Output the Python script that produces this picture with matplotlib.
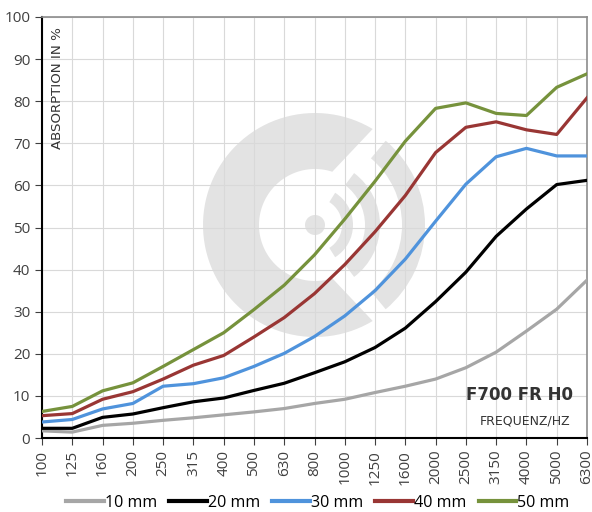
import numpy as np
import matplotlib.pyplot as plt
from matplotlib.patches import Wedge, Circle, Polygon

# Frequenzbänder (Hz)
frequencies = ["100", "125", "160", "200", "250", "315", "400", "500", "630", "800",
               "1000", "1250", "1600", "2000", "2500", "3150", "4000", "5000", "6300"]

# Absorption in % je Materialstärke
abs_10mm = [1.7, 1.4, 3.0, 3.5, 4.2, 4.8, 5.5, 6.2, 7.0, 8.2,
            9.2, 10.8, 12.3, 14.0, 16.7, 20.4, 25.4, 30.6, 37.5]
abs_20mm = [2.3, 2.3, 4.9, 5.7, 7.2, 8.6, 9.5, 11.3, 13.0, 15.5,
            18.1, 21.5, 26.1, 32.4, 39.4, 47.9, 54.4, 60.2, 61.2]
abs_30mm = [3.8, 4.4, 6.9, 8.2, 12.3, 12.9, 14.3, 17.0, 20.1, 24.1,
            29.0, 35.0, 42.5, 51.5, 60.3, 66.8, 68.8, 67.0, 67.0]
abs_40mm = [5.3, 5.8, 9.2, 11.0, 14.0, 17.3, 19.6, 24.0, 28.6, 34.3,
            41.2, 49.0, 57.6, 67.8, 73.8, 75.1, 73.2, 72.1, 80.8]
abs_50mm = [6.3, 7.5, 11.2, 13.1, 17.0, 21.0, 25.0, 30.5, 36.3, 43.5,
            52.0, 61.0, 70.5, 78.3, 79.6, 77.1, 76.6, 83.3, 86.5]

series = [
    ("10 mm", abs_10mm, "#a6a6a6"),
    ("20 mm", abs_20mm, "#000000"),
    ("30 mm", abs_30mm, "#4f93dc"),
    ("40 mm", abs_40mm, "#993634"),
    ("50 mm", abs_50mm, "#76923c"),
]

plt.rcParams["font.family"] = ["Open Sans", "DejaVu Sans"]

fig = plt.figure(figsize=(5.92, 5.12), dpi=100)
ax = fig.add_axes([42 / 592, 74 / 512, 545 / 592, 421 / 512])

# Wasserzeichen (Logo) im Hintergrund, in Zoll-Koordinaten
wm = "#e3e3e3"
cx, cy = 3.15, 2.87
r_out, r_in = 1.12, 0.56
a_out = np.radians(np.linspace(59, 301, 80))
a_in = np.radians(np.linspace(288, 72, 80))
ring = np.vstack([
    np.column_stack([cx + r_out * np.cos(a_out), cy + r_out * np.sin(a_out)]),
    np.column_stack([cx + r_in * np.cos(a_in), cy + r_in * np.sin(a_in)]),
])
logo = [
    Polygon(ring, closed=True),
    Circle((cx, cy), 0.10),
    Wedge((cx, cy), 0.38, -58, 58, width=0.11),
    Wedge((cx, cy), 0.65, -53, 53, width=0.15),
    Wedge((cx, cy), 1.10, -50, 50, width=0.23),
]
for p in logo:
    p.set_facecolor(wm)
    p.set_edgecolor("none")
    p.set_transform(fig.dpi_scale_trans)
    p.set_zorder(0.2)
    ax.add_artist(p)

x = np.arange(len(frequencies))
for label, values, color in series:
    ax.plot(x, values, color=color, lw=2.3, label=label, zorder=3,
            solid_joinstyle="round")

ax.set_xlim(0, len(frequencies) - 1)
ax.set_ylim(0, 100)
ax.set_xticks(x)
ax.set_xticklabels(frequencies, rotation=90)
ax.set_yticks(np.arange(0, 101, 10))

ax.set_axisbelow(True)
ax.grid(True, color="#d9d9d9", lw=0.8, zorder=0.5)
ax.tick_params(axis="both", labelsize=11, labelcolor="#404040", color="#404040",
               length=5, width=0.8)

for side in ["left", "bottom"]:
    ax.spines[side].set_color("#000000")
    ax.spines[side].set_linewidth(1.5)
for side in ["top", "right"]:
    ax.spines[side].set_color("#8c8c8c")
    ax.spines[side].set_linewidth(1.2)

ax.text(0.028, 0.975, "ABSORPTION IN %", transform=ax.transAxes, rotation=90,
        ha="center", va="top", fontsize=9.6, color="#333333", family="DejaVu Sans")
ax.text(0.974, 0.102, "F700 FR H0", transform=ax.transAxes, ha="right",
        va="center", fontsize=12, fontweight="bold", color="#333333",
        family="DejaVu Sans")
ax.text(0.97, 0.04, "FREQUENZ/HZ", transform=ax.transAxes, ha="right",
        va="center", fontsize=9, color="#333333", family="DejaVu Sans")

fig.legend(loc="center", bbox_to_anchor=(318 / 592, 9 / 512), ncol=5,
           frameon=False, fontsize=11.6, handlelength=2.3, handletextpad=0.1,
           columnspacing=0.75, borderaxespad=0)
for line in fig.legends[0].get_lines():
    line.set_linewidth(3)

fig.savefig("out.png", dpi=100)
